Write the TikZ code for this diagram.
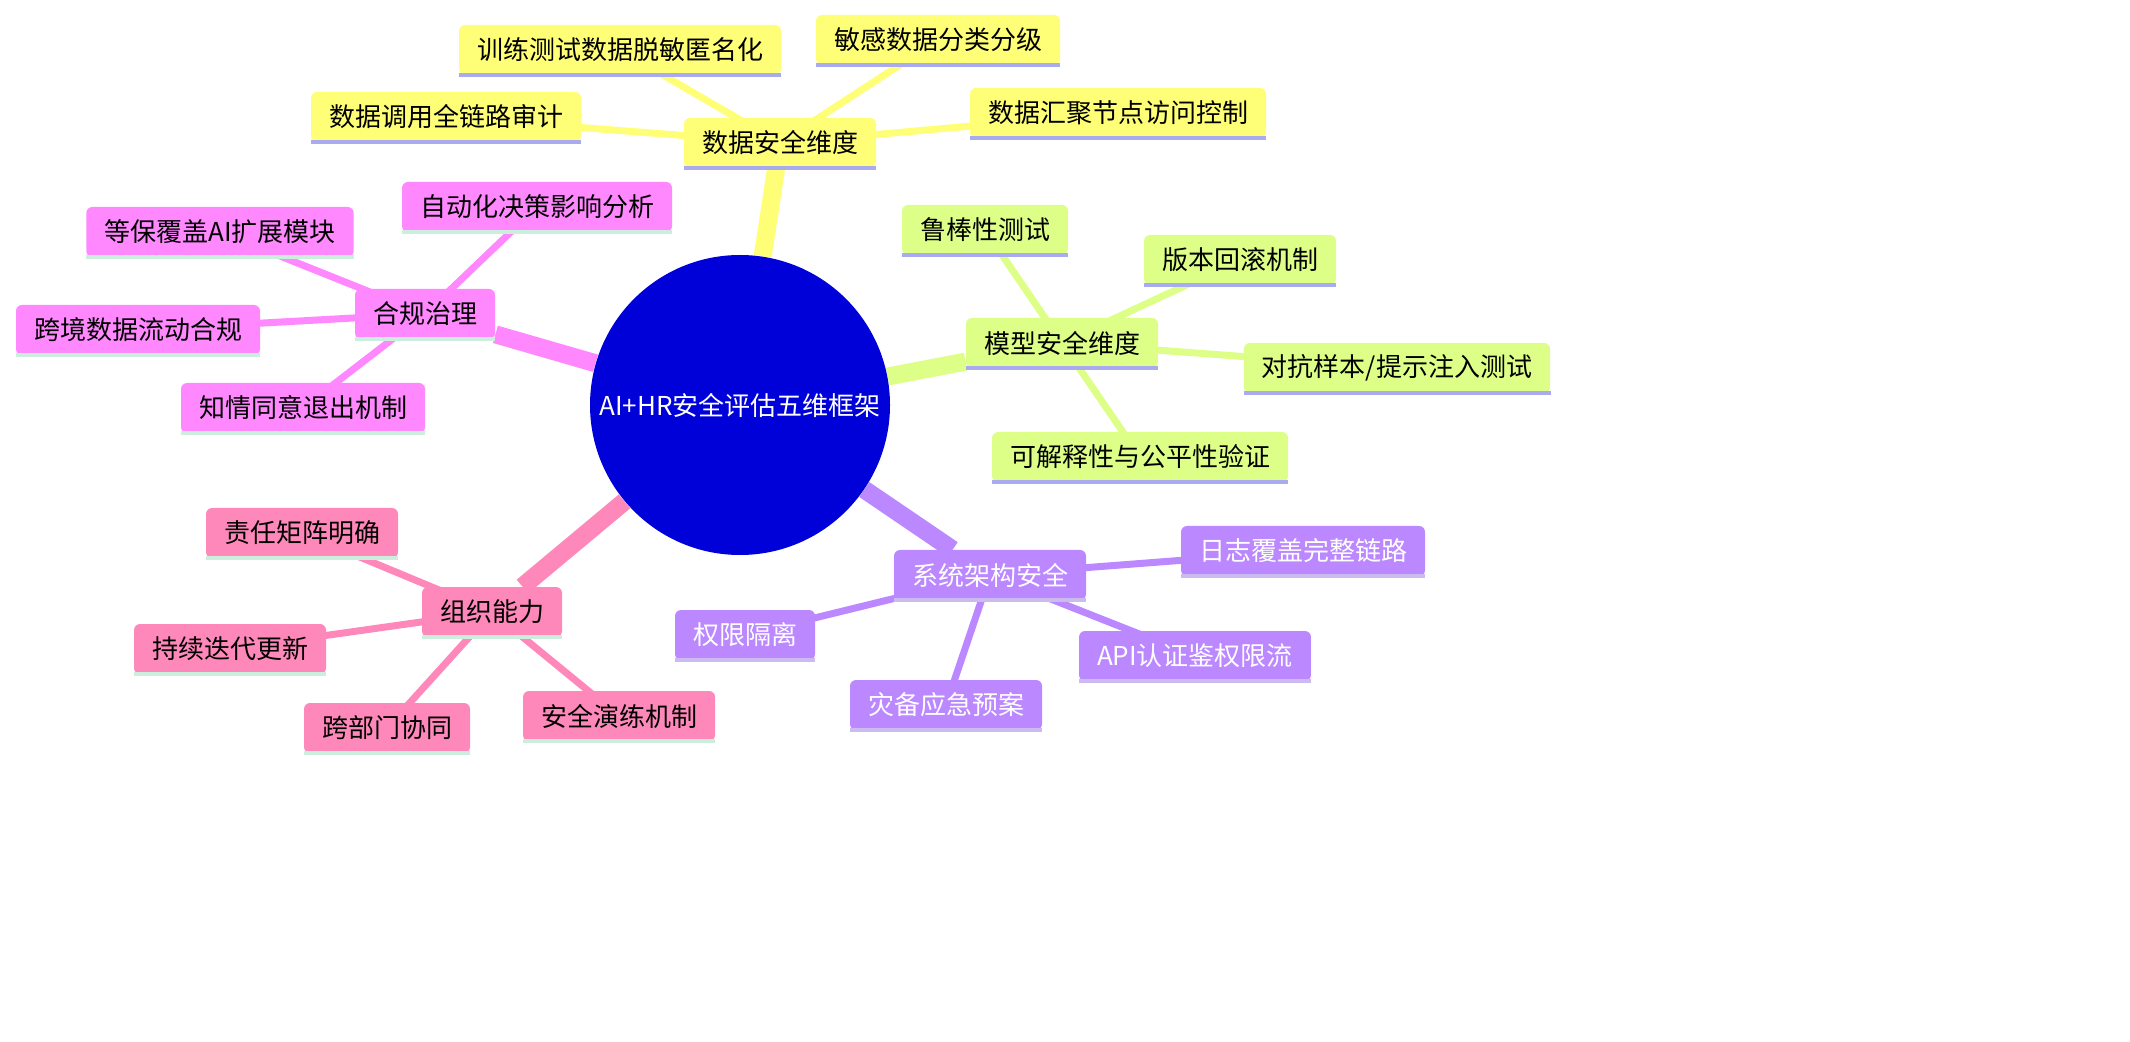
\documentclass[tikz,border=0pt]{standalone}
\usepackage{fontspec}
\setmainfont{Noto Sans CJK SC}
\usetikzlibrary{backgrounds}
\definecolor{cdata}{HTML}{FFFF77}
\definecolor{cmodel}{HTML}{DDFF88}
\definecolor{csys}{HTML}{BB88FF}
\definecolor{corg}{HTML}{FF88BB}
\definecolor{ccomp}{HTML}{FF88FF}
\definecolor{cline1}{HTML}{AAAAEE}
\definecolor{cline2}{HTML}{CCBBEE}
\definecolor{cline3}{HTML}{CCEEDD}
\tikzset{
  box/.style={rounded corners=3pt, inner xsep=9pt, minimum height=25pt, font=\fontsize{13pt}{15pt}\selectfont},
  dbox/.style={box, fill=cdata},
  mbox/.style={box, fill=cmodel},
  sbox/.style={box, fill=csys, text=white},
  obox/.style={box, fill=corg},
  cbox/.style={box, fill=ccomp},
  trunk/.style={line width=9pt},
  twig/.style={line width=3.5pt},
}
\begin{document}
\begin{tikzpicture}[x=0.5pt, y=-0.5pt]
\useasboundingbox (0,0) rectangle (2130,1042);
\node[circle, fill=blue!85!black, minimum size=150pt, text=white, font=\fontsize{13pt}{15pt}\selectfont] (root) at (740,405) {AI+HR安全评估五维框架};

% data
\node[dbox] (D) at (780,143) {数据安全维度};
\node[dbox] (D1) at (620,50) {训练测试数据脱敏匿名化};
\node[dbox] (D2) at (938,40) {敏感数据分类分级};
\node[dbox] (D3) at (446,117) {数据调用全链路审计};
\node[dbox] (D4) at (1118,113) {数据汇聚节点访问控制};
% model
\node[mbox] (M) at (1062,343) {模型安全维度};
\node[mbox] (M1) at (985,230) {鲁棒性测试};
\node[mbox] (M2) at (1240,260) {版本回滚机制};
\node[mbox] (M3) at (1397,368) {对抗样本/提示注入测试};
\node[mbox] (M4) at (1140,457) {可解释性与公平性验证};
% system
\node[sbox] (S) at (990,575) {系统架构安全};
\node[sbox] (S1) at (1303,551) {日志覆盖完整链路};
\node[sbox] (S2) at (745,635) {权限隔离};
\node[sbox] (S3) at (1195,656) {API认证鉴权限流};
\node[sbox] (S4) at (946,705) {灾备应急预案};
% organisation
\node[obox] (O) at (492,612) {组织能力};
\node[obox] (O1) at (302,533) {责任矩阵明确};
\node[obox] (O2) at (230,649) {持续迭代更新};
\node[obox] (O3) at (387,728) {跨部门协同};
\node[obox] (O4) at (619,716) {安全演练机制};
% compliance
\node[cbox] (C) at (425,314) {合规治理};
\node[cbox] (C1) at (537,207) {自动化决策影响分析};
\node[cbox] (C2) at (220,232) {等保覆盖AI扩展模块};
\node[cbox] (C3) at (138,330) {跨境数据流动合规};
\node[cbox] (C4) at (303,408) {知情同意退出机制};

\foreach \n in {D,D1,D2,D3,D4,M,M1,M2,M3,M4}
  \draw[cline1, line width=2pt] (\n.south west) -- (\n.south east);
\foreach \n in {S,S1,S2,S3,S4}
  \draw[cline2, line width=2pt] (\n.south west) -- (\n.south east);
\foreach \n in {O,O1,O2,O3,O4,C,C1,C2,C3,C4}
  \draw[cline3, line width=2pt] (\n.south west) -- (\n.south east);

\begin{scope}[on background layer]
\draw[trunk, cdata] (root) -- (D);
\draw[trunk, cmodel] (root) -- (M);
\draw[trunk, csys] (root) -- (S);
\draw[trunk, corg] (root) -- (O);
\draw[trunk, ccomp] (root) -- (C);
\foreach \i in {1,...,4} {
  \draw[twig, cdata] (D.center) -- (D\i.center);
  \draw[twig, cmodel] (M.center) -- (M\i.center);
  \draw[twig, csys] (S.center) -- (S\i.center);
  \draw[twig, corg] (O.center) -- (O\i.center);
  \draw[twig, ccomp] (C.center) -- (C\i.center);
}
\end{scope}
\end{tikzpicture}
\end{document}
